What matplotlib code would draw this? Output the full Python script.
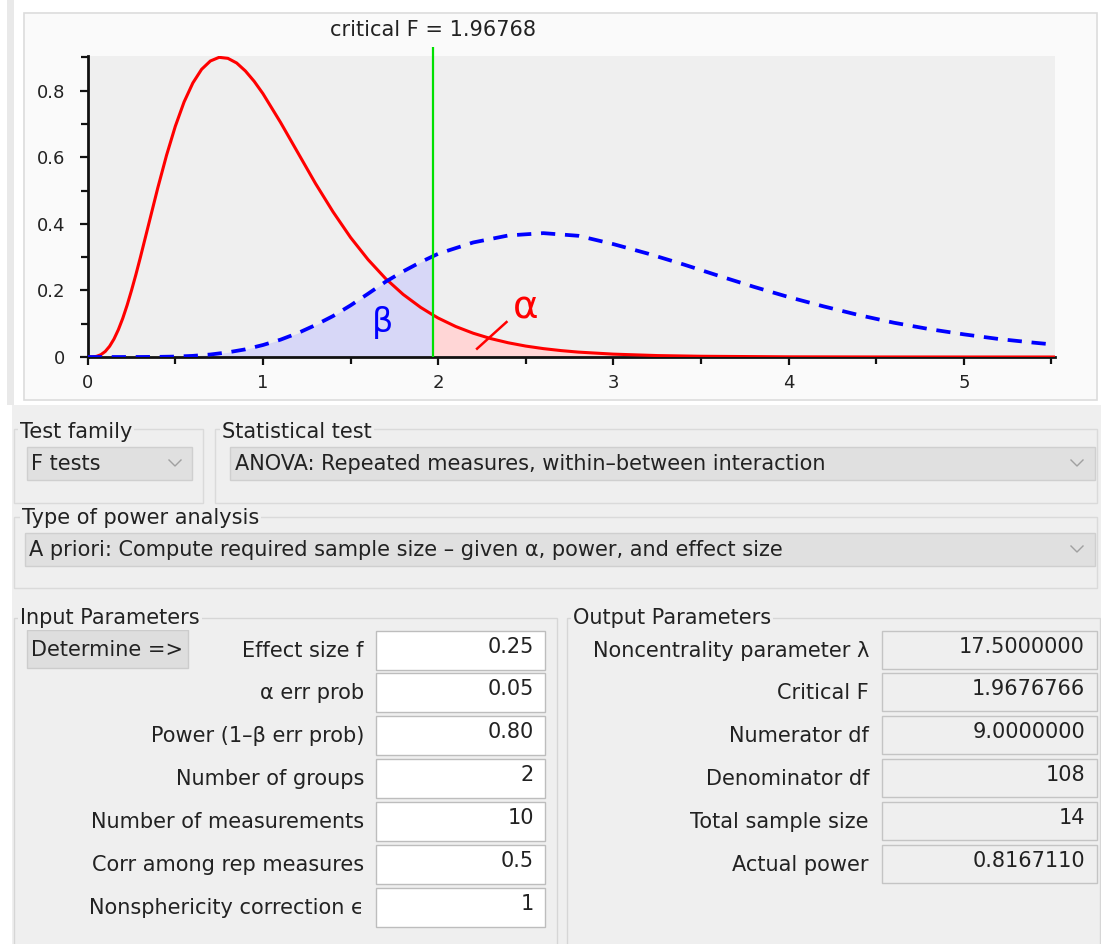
"""G*Power style screenshot: central vs non-central F distribution and the parameter panel."""

import matplotlib
matplotlib.use("Agg")
import matplotlib.pyplot as plt
import numpy as np
from matplotlib.patches import Rectangle

W, H = 1101, 944

# ---- chart data ----
CRIT = 1.96768

red_x = [0, 0.025, 0.05, 0.075, 0.1, 0.125, 0.15, 0.175, 0.2, 0.225, 0.25, 0.275, 0.3,
         0.35, 0.4, 0.45, 0.5, 0.55, 0.6, 0.65, 0.7, 0.75, 0.8, 0.85, 0.9, 0.95, 1.0,
         1.1, 1.2, 1.3, 1.4, 1.5, 1.6, 1.7, 1.8, 1.9, 1.96768, 2.0, 2.1, 2.2, 2.3, 2.4,
         2.5, 2.6, 2.7, 2.8, 3.0, 3.25, 3.5, 4.0, 4.5, 5.0, 5.52]
red_y = [0, 0.0002, 0.0019, 0.0069, 0.0166, 0.0322, 0.054, 0.0821, 0.116, 0.1557,
         0.200, 0.2475, 0.298, 0.403, 0.508, 0.606, 0.693, 0.766, 0.823, 0.864, 0.889,
         0.900, 0.897, 0.883, 0.859, 0.828, 0.791, 0.705, 0.613, 0.521, 0.436, 0.359,
         0.2925, 0.2355, 0.188, 0.149, 0.127, 0.117, 0.0916, 0.0714, 0.0553, 0.0427,
         0.0328, 0.0252, 0.0193, 0.0147, 0.0086, 0.0043, 0.0022, 0.0005, 0.0001, 0.0, 0.0]

blue_x = [0, 0.2, 0.3, 0.4, 0.5, 0.6, 0.7, 0.8, 0.9, 1.0, 1.1, 1.2, 1.3, 1.4, 1.5, 1.6,
          1.7, 1.8, 1.9, 1.96768, 2.0, 2.2, 2.4, 2.6, 2.8, 3.0, 3.2, 3.4, 3.6, 3.8, 4.0,
          4.2, 4.4, 4.6, 4.8, 5.0, 5.2, 5.4, 5.52]
blue_y = [0, 0.0, 0.0001, 0.0004, 0.0013, 0.0034, 0.0075, 0.014, 0.023, 0.036, 0.052,
          0.072, 0.096, 0.123, 0.155, 0.19, 0.226, 0.257, 0.285, 0.302, 0.31, 0.344,
          0.365, 0.372, 0.364, 0.339, 0.310, 0.278, 0.244, 0.211, 0.180, 0.152, 0.126,
          0.103, 0.084, 0.068, 0.054, 0.043, 0.037]

x_major = [0, 1, 2, 3, 4, 5]
x_minor = [0.5, 1.5, 2.5, 3.5, 4.5, 5.5]
y_major = [0, 0.2, 0.4, 0.6, 0.8]
y_minor = [0.1, 0.3, 0.5, 0.7, 0.9]
y_labels = ["0", "0.2", "0.4", "0.6", "0.8"]

# ---- panel texts ----
test_family = "F tests"
statistical_test = "ANOVA: Repeated measures, within\u2013between interaction"
power_type = "A priori: Compute required sample size \u2013 given \u03b1, power, and effect size"

input_labels = ["Effect size f", "\u03b1 err prob", "Power (1\u2013\u03b2 err prob)",
                "Number of groups", "Number of measurements",
                "Corr among rep measures", "Nonsphericity correction \u03f5"]
input_values = ["0.25", "0.05", "0.80", "2", "10", "0.5", "1"]

output_labels = ["Noncentrality parameter \u03bb", "Critical F", "Numerator df",
                 "Denominator df", "Total sample size", "Actual power"]
output_values = ["17.5000000", "1.9676766", "9.0000000", "108", "14", "0.8167110"]

TXT = "#222222"
FS = 15

plt.rcParams["font.family"] = ["DejaVu Sans"]

fig = plt.figure(figsize=(W / 100, H / 100), dpi=100)
fig.patch.set_facecolor("white")

# pixel-space canvas for the GUI parts
ui = fig.add_axes([0, 0, 1, 1])
ui.set_xlim(0, W)
ui.set_ylim(H, 0)
ui.axis("off")


def box(x0, y0, x1, y1, fc="none", ec="none", lw=1.0, z=1):
    ui.add_patch(Rectangle((x0, y0), x1 - x0, y1 - y0, facecolor=fc, edgecolor=ec,
                           linewidth=lw, zorder=z))


def chevron(x, y):
    ui.plot([x - 6, x, x + 6], [y - 3, y + 3, y - 3], color="#a0a0a0", lw=1.0, zorder=5)


def group_label(x, y, s):
    ui.text(x, y, s, fontsize=FS, color=TXT, va="center", ha="left", zorder=6,
            bbox=dict(boxstyle="square,pad=0.1", fc="#efefef", ec="none"))


# outer window pieces
box(7, 0, 14, 405, fc="#e9e9e9")
box(24, 13, 1097, 400, fc="#fafafa", ec="#dcdcdc", lw=1.2)
box(12, 405, W + 5, H + 5, fc="#efefef")

# test family / statistical test
box(14, 429, 203, 503, ec="#dadada")
box(215, 429, 1097, 503, ec="#dadada")
group_label(20, 432, "Test family")
group_label(222, 432, "Statistical test")
box(27, 447, 192, 480, fc="#e0e0e0", ec="#cfcfcf", z=3)
ui.text(31, 464, test_family, fontsize=FS, color=TXT, va="center", zorder=6)
chevron(175, 463)
box(230, 447, 1095, 480, fc="#e0e0e0", ec="#cfcfcf", z=3)
ui.text(235, 464, statistical_test, fontsize=FS, color=TXT, va="center", zorder=6)
chevron(1077, 463)

# type of power analysis
box(14, 517, 1097, 588, ec="#dadada")
group_label(22, 518, "Type of power analysis")
box(25, 533, 1095, 566, fc="#e0e0e0", ec="#cfcfcf", z=3)
ui.text(29, 550, power_type, fontsize=FS, color=TXT, va="center", zorder=6)
chevron(1077, 549)

# input / output parameter groups
box(14, 618, 557, H + 10, ec="#d6d6d6")
box(567, 618, 1100, H + 10, ec="#d6d6d6")
group_label(20, 618, "Input Parameters")
group_label(573, 618, "Output Parameters")

box(27, 630, 188, 668, fc="#dedede", ec="#cccccc", z=3)
ui.text(31, 650, "Determine =>", fontsize=FS, color=TXT, va="center", zorder=6)

row_tops = [631, 673, 716, 759, 802, 845, 888]
for top, lab, val in zip(row_tops, input_labels, input_values):
    box(376, top, 545, top + 39, fc="white", ec="#bdbdbd", z=3)
    ui.text(364, top + 20, lab, fontsize=FS, color=TXT, ha="right", va="center", zorder=6)
    ui.text(534, top + 16, val, fontsize=FS, color=TXT, ha="right", va="center", zorder=6)

for top, lab, val in zip(row_tops, output_labels, output_values):
    box(882, top, 1097, top + 38, fc="#efefef", ec="#c4c4c4", z=3)
    ui.text(869, top + 20, lab, fontsize=FS, color=TXT, ha="right", va="center", zorder=6)
    ui.text(1085, top + 16, val, fontsize=FS, color=TXT, ha="right", va="center", zorder=6)

# ---- distribution chart ----
left, right, top, bottom = 87.7, 1055, 56, 357
ax = fig.add_axes([left / W, 1 - bottom / H, (right - left) / W, (bottom - top) / H])
ax.set_facecolor("#efefef")

rx, ry = np.array(red_x), np.array(red_y)
bx, by = np.array(blue_x), np.array(blue_y)

lo = bx <= CRIT
ax.fill_between(bx[lo], by[lo], color="#d7d7f7", lw=0, zorder=1)
hi = rx >= CRIT
ax.fill_between(rx[hi], ry[hi], color="#ffd6d6", lw=0, zorder=1)

ax.plot(rx, ry, color="#ff0000", lw=2.2, zorder=3, solid_joinstyle="round")
ax.plot(bx, by, color="#0000ff", lw=2.7, linestyle=(0, (3.8, 2.6)), zorder=4)
ax.vlines(CRIT, 0, 0.93, color="#00e000", lw=1.6, zorder=5, clip_on=False)

ax.text(CRIT, 1.086, f"critical F = {CRIT:.5f}", transform=ax.get_xaxis_transform(),
        ha="center", va="center", fontsize=FS, color=TXT)
ax.text(1.68, 0.105, "\u03b2", color="#0000ff", fontsize=24, ha="center", va="center", zorder=6)
ax.text(2.50, 0.15, "\u03b1", color="#ff0000", fontsize=28, ha="center", va="center", zorder=6)
ax.plot([2.222, 2.39], [0.025, 0.105], color="#ff0000", lw=1.8, zorder=6)

ax.set_xlim(0, 5.52)
ax.set_ylim(0, 0.904)
ax.set_xticks(x_major)
ax.set_xticks(x_minor, minor=True)
ax.set_yticks(y_major, labels=y_labels)
ax.set_yticks(y_minor, minor=True)
ax.tick_params(which="both", direction="out", color="#111111", width=1.6, labelsize=13,
               labelcolor=TXT)
ax.tick_params(axis="y", which="major", length=6, pad=10)
ax.tick_params(axis="x", which="major", length=6, pad=6)
ax.tick_params(which="minor", length=5)
for side in ("top", "right"):
    ax.spines[side].set_visible(False)
for side in ("left", "bottom"):
    ax.spines[side].set_linewidth(2.0)
    ax.spines[side].set_color("#111111")

fig.savefig("out.png", dpi=100, facecolor=fig.get_facecolor())
